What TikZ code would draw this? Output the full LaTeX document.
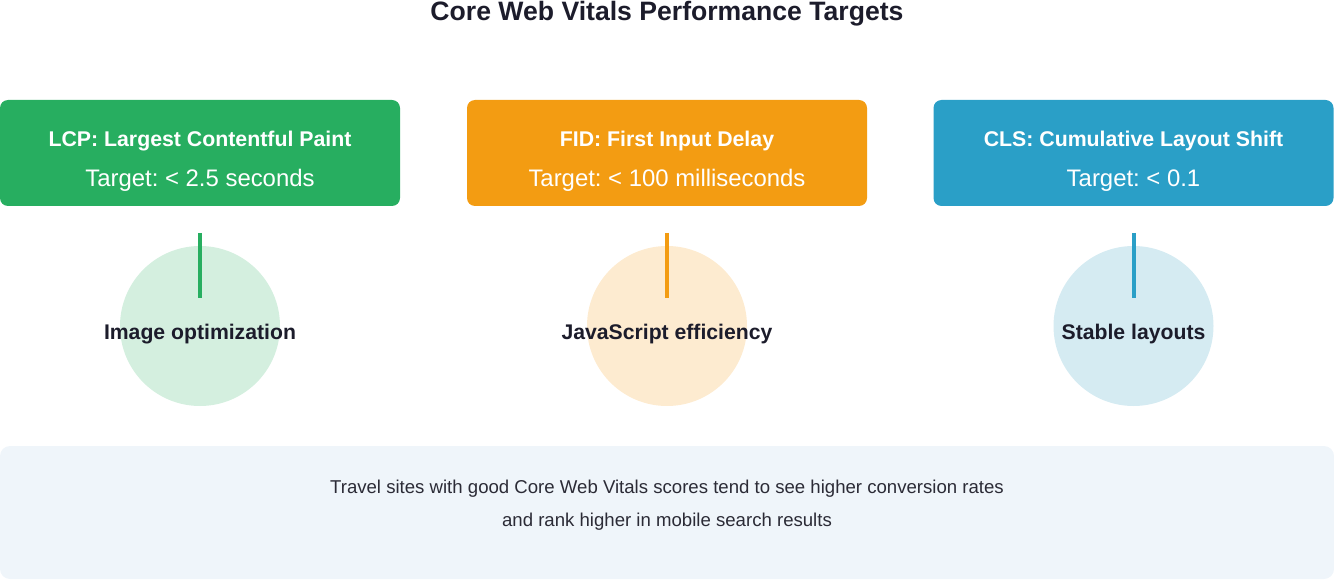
\documentclass[tikz,border=0pt]{standalone}
\usepackage{fontspec}
\setmainfont{Liberation Sans}
\frenchspacing
\definecolor{cgreen}{HTML}{27AE60}
\definecolor{corange}{HTML}{F39C12}
\definecolor{cblue}{HTML}{2A9FC7}
\definecolor{lgreen}{HTML}{D4EFDF}
\definecolor{lorange}{HTML}{FDEBD0}
\definecolor{lblue}{HTML}{D5EBF2}
\definecolor{darktext}{HTML}{1C1C2B}
\definecolor{notebg}{HTML}{EFF5FA}
\definecolor{notetext}{HTML}{2B2B36}
\tikzset{
  x=1pt, y=-1pt,
  metricbox/.style={draw=none, fill=#1, rounded corners=8pt, minimum width=400pt, minimum height=106pt, inner sep=0pt},
  titletext/.style={anchor=base, text=white, font=\fontsize{21.3}{25}\selectfont\bfseries, inner sep=0pt},
  targettext/.style={anchor=base, text=white, font=\fontsize{23.9}{28}\selectfont, inner sep=0pt},
  bubble/.style={circle, fill=#1, draw=none, minimum size=160pt, inner sep=0pt},
  bubbletext/.style={anchor=base, text=darktext, font=\fontsize{21.2}{25}\selectfont\bfseries, inner sep=0pt},
  stem/.style={draw=#1, line width=4pt},
  notetxt/.style={anchor=base, text=notetext, font=\fontsize{18.6}{22}\selectfont, inner sep=0pt},
}
\begin{document}
\begin{tikzpicture}
\useasboundingbox (0,0) rectangle (1334,580);
\node[anchor=base, text=darktext, font=\fontsize{26.6}{32}\selectfont\bfseries, inner sep=0pt] (title) at (667,20.5) {Core Web Vitals Performance Targets};

% boxes
\node[metricbox=cgreen] (lcp) at (200,153) {};
\node[metricbox=corange] (fid) at (667,153) {};
\node[metricbox=cblue] (cls) at (1133.5,153) {};

\node[titletext] (lcpT) at (200,146.5) {LCP: Largest Contentful Paint};
\node[targettext] (lcpV) at (200,186.5) {Target: < 2.5 seconds};
\node[titletext] (fidT) at (667,146.5) {FID: First Input Delay};
\node[targettext] (fidV) at (667,186.5) {Target: < 100 milliseconds};
\node[titletext] (clsT) at (1133.5,146.5) {CLS: Cumulative Layout Shift};
\node[targettext] (clsV) at (1133.5,186.5) {Target: < 0.1};

% circles
\node[bubble=lgreen] (c1) at (200,326) {};
\node[bubble=lorange] (c2) at (667,326) {};
\node[bubble=lblue] (c3) at (1133.5,326) {};

\coordinate (s1a) at (200,233); \coordinate (s1b) at (200,298);
\coordinate (s2a) at (667,233); \coordinate (s2b) at (667,298);
\coordinate (s3a) at (1133.5,233); \coordinate (s3b) at (1133.5,298);
\draw[stem=cgreen] (s1a) -- (s1b);
\draw[stem=corange] (s2a) -- (s2b);
\draw[stem=cblue] (s3a) -- (s3b);

\node[bubbletext] (t1) at (200,339.5) {Image optimization};
\node[bubbletext] (t2) at (667,339.5) {JavaScript efficiency};
\node[bubbletext] (t3) at (1133.5,339.5) {Stable layouts};

% note
\fill[notebg, rounded corners=10pt] (0,446) rectangle (1334,579);
\node[notetxt] (n1) at (667,493.3) {Travel sites with good Core Web Vitals scores tend to see higher conversion rates};
\node[notetxt] (n2) at (667,526.3) {and rank higher in mobile search results};
\end{tikzpicture}
\end{document}
